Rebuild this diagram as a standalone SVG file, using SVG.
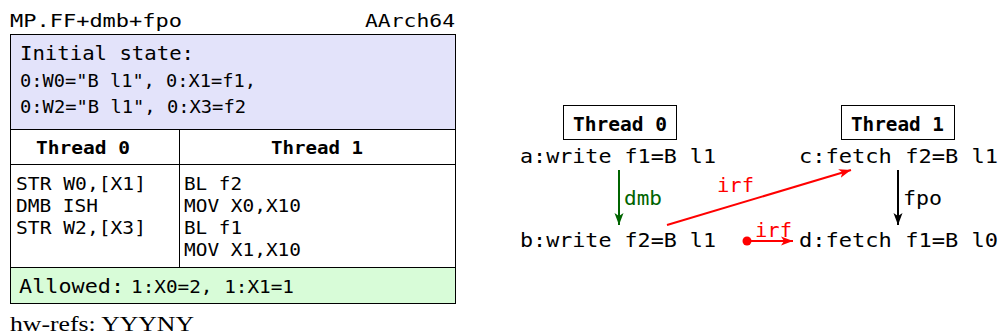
<svg xmlns="http://www.w3.org/2000/svg" width="998" height="336" viewBox="0 0 998 336">
<style>
.m{font-family:"DejaVu Sans Mono","Liberation Mono",monospace;fill:#000}
.b{font-weight:bold}
.ln{stroke:#000;stroke-width:1;fill:none}
.s{font-family:"Liberation Serif",serif;fill:#000}
</style>
<defs>
<marker id="ak" markerWidth="13" markerHeight="10" refX="12" refY="5" orient="auto" markerUnits="userSpaceOnUse"><path d="M0,0.5 L12,5 L0,9.5 L3,5 Z" fill="#000"/></marker>
<marker id="ag" markerWidth="13" markerHeight="10" refX="12" refY="5" orient="auto" markerUnits="userSpaceOnUse"><path d="M0,0.5 L12,5 L0,9.5 L3,5 Z" fill="#006400"/></marker>
<marker id="ar" markerWidth="13" markerHeight="10" refX="12" refY="5" orient="auto" markerUnits="userSpaceOnUse"><path d="M0,0.5 L12,5 L0,9.5 L3,5 Z" fill="#ff0000"/></marker>
</defs>
<g id="table">
<text class="m" x="10" y="27" font-size="18" textLength="172" lengthAdjust="spacingAndGlyphs">MP.FF+dmb+fpo</text>
<text class="m" x="365" y="27" font-size="18" textLength="90" lengthAdjust="spacingAndGlyphs">AArch64</text>
<rect x="10.5" y="34.5" width="445" height="95" fill="#e3e3fa" stroke="none"/>
<rect x="10.5" y="267.5" width="445" height="36" fill="#d8fcd8" stroke="none"/>
<rect x="10.5" y="34.5" width="445" height="269" class="ln"/>
<line x1="10" y1="129.5" x2="456" y2="129.5" class="ln"/>
<line x1="10" y1="164.5" x2="456" y2="164.5" class="ln"/>
<line x1="10" y1="267.5" x2="456" y2="267.5" class="ln"/>
<line x1="179.5" y1="129.5" x2="179.5" y2="267.5" class="ln"/>
<text class="m" x="20" y="60" font-size="20" textLength="174" lengthAdjust="spacingAndGlyphs">Initial state:</text>
<text class="m" x="20" y="87" font-size="17" textLength="236" lengthAdjust="spacingAndGlyphs">0:W0="B l1", 0:X1=f1,</text>
<text class="m" x="20" y="113" font-size="17" textLength="226" lengthAdjust="spacingAndGlyphs">0:W2="B l1", 0:X3=f2</text>
<text class="m b" x="36" y="154" font-size="18" textLength="94" lengthAdjust="spacingAndGlyphs">Thread 0</text>
<text class="m b" x="271" y="154" font-size="18" textLength="92" lengthAdjust="spacingAndGlyphs">Thread 1</text>
<g class="m" font-size="17">
<text x="16" y="190" textLength="130" lengthAdjust="spacingAndGlyphs">STR W0,[X1]</text>
<text x="16" y="212" textLength="82" lengthAdjust="spacingAndGlyphs">DMB ISH</text>
<text x="16" y="234" textLength="130" lengthAdjust="spacingAndGlyphs">STR W2,[X3]</text>
<text x="184" y="190" textLength="58" lengthAdjust="spacingAndGlyphs">BL f2</text>
<text x="184" y="212" textLength="117" lengthAdjust="spacingAndGlyphs">MOV X0,X10</text>
<text x="184" y="234" textLength="58" lengthAdjust="spacingAndGlyphs">BL f1</text>
<text x="184" y="256" textLength="117" lengthAdjust="spacingAndGlyphs">MOV X1,X10</text>
</g>
<text class="m" x="19" y="293" font-size="20" textLength="105" lengthAdjust="spacingAndGlyphs">Allowed:</text>
<text class="m" x="131" y="293" font-size="17" textLength="163" lengthAdjust="spacingAndGlyphs">1:X0=2, 1:X1=1</text>
<text class="s" x="10" y="331" font-size="21" textLength="184" lengthAdjust="spacingAndGlyphs">hw-refs: YYYNY</text>
</g>
<g id="thread0">
<rect x="563.5" y="105.5" width="113" height="34" class="ln"/>
<text class="m b" x="573" y="131" font-size="19" textLength="94" lengthAdjust="spacingAndGlyphs">Thread 0</text>
</g>
<g id="thread1">
<rect x="841.5" y="105.5" width="113" height="34" class="ln"/>
<text class="m b" x="851" y="131" font-size="19" textLength="93" lengthAdjust="spacingAndGlyphs">Thread 1</text>
</g>
<g id="a"><text class="m" x="520" y="163" font-size="20" textLength="196" lengthAdjust="spacingAndGlyphs">a:write f1=B l1</text></g>
<g id="b"><text class="m" x="520" y="247" font-size="20" textLength="196" lengthAdjust="spacingAndGlyphs">b:write f2=B l1</text></g>
<g id="c"><text class="m" x="799" y="163" font-size="20" textLength="199" lengthAdjust="spacingAndGlyphs">c:fetch f2=B l1</text></g>
<g id="d"><text class="m" x="799" y="247" font-size="20" textLength="199" lengthAdjust="spacingAndGlyphs">d:fetch f1=B l0</text></g>
<g id="connectors">
<line x1="619" y1="170" x2="619" y2="225" stroke="#006400" stroke-width="2" marker-end="url(#ag)"/>
<text class="m" x="624" y="205" font-size="20" style="fill:#006400" textLength="38" lengthAdjust="spacingAndGlyphs">dmb</text>
<line x1="898" y1="170" x2="898" y2="225" stroke="#000" stroke-width="2" marker-end="url(#ak)"/>
<text class="m" x="903" y="205" font-size="20" textLength="39" lengthAdjust="spacingAndGlyphs">fpo</text>
<line x1="667" y1="225" x2="851" y2="170" stroke="#ff0000" stroke-width="2" marker-end="url(#ar)"/>
<text class="m" x="717" y="192" font-size="20" style="fill:#ff0000" textLength="37" lengthAdjust="spacingAndGlyphs">irf</text>
<circle cx="747" cy="241" r="4.5" fill="#ff0000"/>
<line x1="747" y1="241" x2="793" y2="241" stroke="#ff0000" stroke-width="2" marker-end="url(#ar)"/>
<text class="m" x="755" y="237" font-size="20" style="fill:#ff0000" textLength="37" lengthAdjust="spacingAndGlyphs">irf</text>
</g>
</svg>
